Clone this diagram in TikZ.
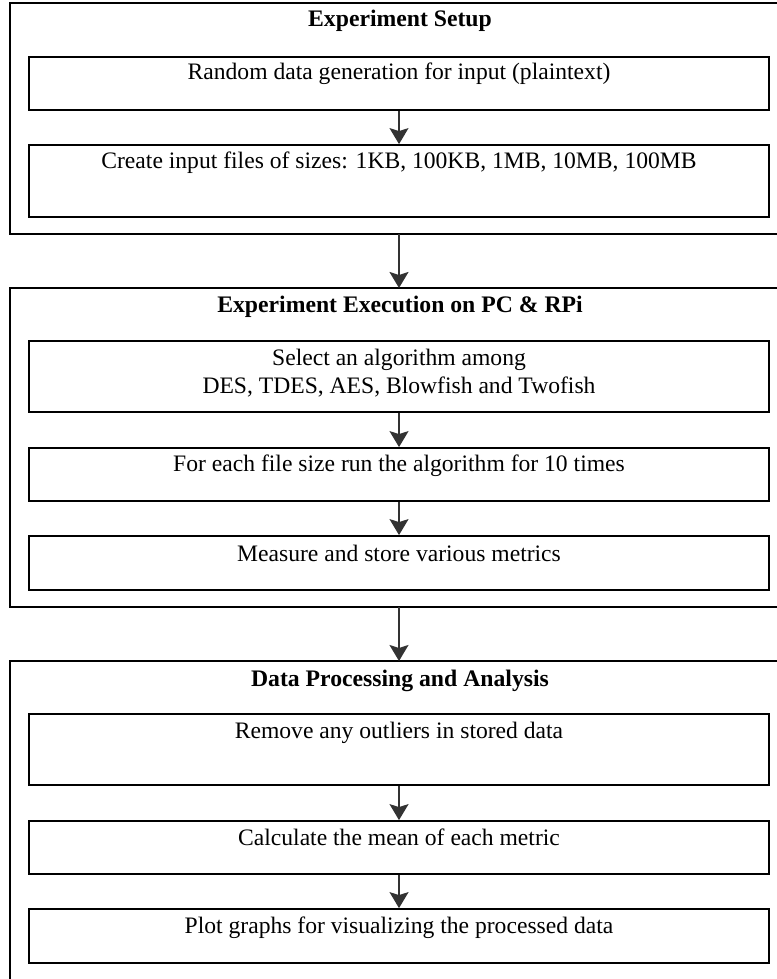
\documentclass[tikz,border=0pt]{standalone}
\usepackage{fontspec}
\setmainfont{Liberation Serif}
\usetikzlibrary{arrows.meta}
\begin{document}
\begin{tikzpicture}[x=1pt,y=-1pt,
  outerbox/.style={draw=black,line width=1.6pt,inner sep=0pt,outer sep=0pt,minimum width=768pt},
  innerbox/.style={draw=black,line width=1.8pt,inner sep=0pt,minimum width=740pt},
  txt/.style={anchor=base,inner sep=0pt,font=\fontsize{23.6}{28}\selectfont,align=center},
  ttl/.style={anchor=base,inner sep=0pt,font=\fontsize{23.7}{28}\selectfont\bfseries},
  flow/.style={draw=black!80,line width=1.8pt,-{Stealth[length=16pt,width=19pt,inset=3pt]}}]
\useasboundingbox (0,0) rectangle (776,979);
% outer boxes
\node[outerbox,minimum height=231pt] (O1) at (394,118.5) {};
\node[outerbox,minimum height=319pt] (O2) at (394,447.5) {};
\node[outerbox,minimum height=321pt] (O3) at (394,821.5) {};
% inner boxes
\node[innerbox,minimum height=53pt] (A1) at (399,83.5) {};
\node[innerbox,minimum height=72pt] (A2) at (399,181) {};
\node[innerbox,minimum height=71pt] (B1) at (399,376.5) {};
\node[innerbox,minimum height=53pt] (B2) at (399,474.5) {};
\node[innerbox,minimum height=54pt] (B3) at (399,563) {};
\node[innerbox,minimum height=71pt] (C1) at (399,749.5) {};
\node[innerbox,minimum height=53pt] (C2) at (399,847.5) {};
\node[innerbox,minimum height=54pt] (C3) at (399,936) {};
% titles
\node[ttl] (T1) at (400,27) {Experiment Setup};
\node[ttl] (T2) at (400,312) {Experiment Execution on PC \& RPi};
\node[ttl] (T3) at (400,686) {Data Processing and Analysis};
% texts
\node[txt] (tA1) at (399,80) {Random data generation for input (plaintext)};
\node[txt] (tA2) at (399,168) {Create input files of sizes: 1KB, 100KB, 1MB, 10MB, 100MB};
\node[txt] (tB1) at (399,393) {Select an algorithm among\\DES, TDES, AES, Blowfish and Twofish};
\node[txt] (tB2) at (399,471) {For each file size run the algorithm for 10 times};
\node[txt] (tB3) at (399,561) {Measure and store various metrics};
\node[txt] (tC1) at (399,738) {Remove any outliers in stored data};
\node[txt] (tC2) at (399,845) {Calculate the mean of each metric};
\node[txt] (tC3) at (399,933) {Plot graphs for visualizing the processed data};
% connectors
\draw[flow] (A1.south) -- (A2.north);
\draw[flow] (A1.south |- O1.south) -- (A1.south |- O2.north);
\draw[flow] (B1.south) -- (B2.north);
\draw[flow] (B2.south) -- (B3.north);
\draw[flow] (B1.south |- O2.south) -- (B1.south |- O3.north);
\draw[flow] (C1.south) -- (C2.north);
\draw[flow] (C2.south) -- (C3.north);
\end{tikzpicture}
\end{document}
